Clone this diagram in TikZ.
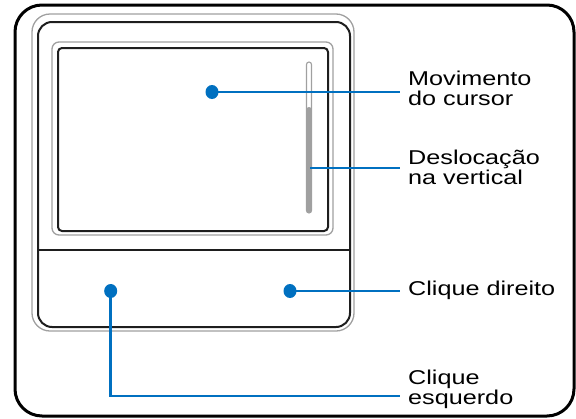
\documentclass[tikz,border=0pt]{standalone}
\usepackage{fontspec}
\setmainfont{Liberation Sans}
\usetikzlibrary{shapes.geometric}
\definecolor{cblue}{RGB}{0,112,192}
\definecolor{cgray}{RGB}{160,160,160}
\definecolor{cdark}{RGB}{30,30,30}
\newcommand{\wx}[1]{\scalebox{1.26}[1]{#1}}
\tikzset{
  frameblack/.style={draw=cdark, line width=2pt},
  framegray/.style={draw=cgray, line width=1.3pt},
  dotnode/.style={ellipse, fill=cblue, minimum width=13pt, minimum height=14pt, inner sep=0pt},
  conn/.style={draw=cblue, line width=2.5pt},
  lab/.style={anchor=base west, align=left, inner xsep=8pt, inner ysep=0pt, font=\fontsize{20}{19.5}\selectfont}
}
\begin{document}
\begin{tikzpicture}[x=1pt, y=-1pt]
\useasboundingbox (0,0) rectangle (576,418);
% outer frame
\draw[line width=3pt, rounded corners=27pt] (15,5) rectangle (574,416);
% touchpad
\draw[framegray, rounded corners=18pt] (32,14) rectangle (354,331);
\draw[frameblack, rounded corners=14pt] (38,22) rectangle (350,327);
\draw[framegray, rounded corners=7pt] (52,42) rectangle (333,235);
\draw[frameblack, rounded corners=4pt] (58,48) rectangle (328,231);
\draw[draw=cdark, line width=1.5pt] (38,250) -- (350,250);
% scrollbar
\fill[cgray, rounded corners=2.5pt] (306.5,107) rectangle (311.5,213);
\draw[draw=cgray, line width=1.1pt, rounded corners=2.5pt] (306.5,62) rectangle (311.5,213);
\coordinate (scroll) at (310,168);
% dots
\node[dotnode] (dM) at (212,92) {};
\node[dotnode] (dR) at (290,291) {};
\node[dotnode] (dL) at (110.7,291) {};
% labels (base = baseline of last line)
\node[lab] (lM) at (400,105) {\wx{Movimento}\\\wx{do cursor}};
\node[lab] (lD) at (400,184) {\wx{Deslocação}\\\wx{na vertical}};
\node[lab] (lR) at (400,295) {\wx{Clique direito}};
\node[lab] (lL) at (400,404) {\wx{Clique}\\\wx{esquerdo}};
\coordinate (cL) at (400,396);
% connectors
\draw[conn] (dM.center) -- (dM.center -| lM.west);
\draw[conn] (scroll) -- (scroll -| lD.west);
\draw[conn] (dR.center) -- (dR.center -| lR.west);
\draw[conn] (dL.center) |- (cL);
\end{tikzpicture}
\end{document}
